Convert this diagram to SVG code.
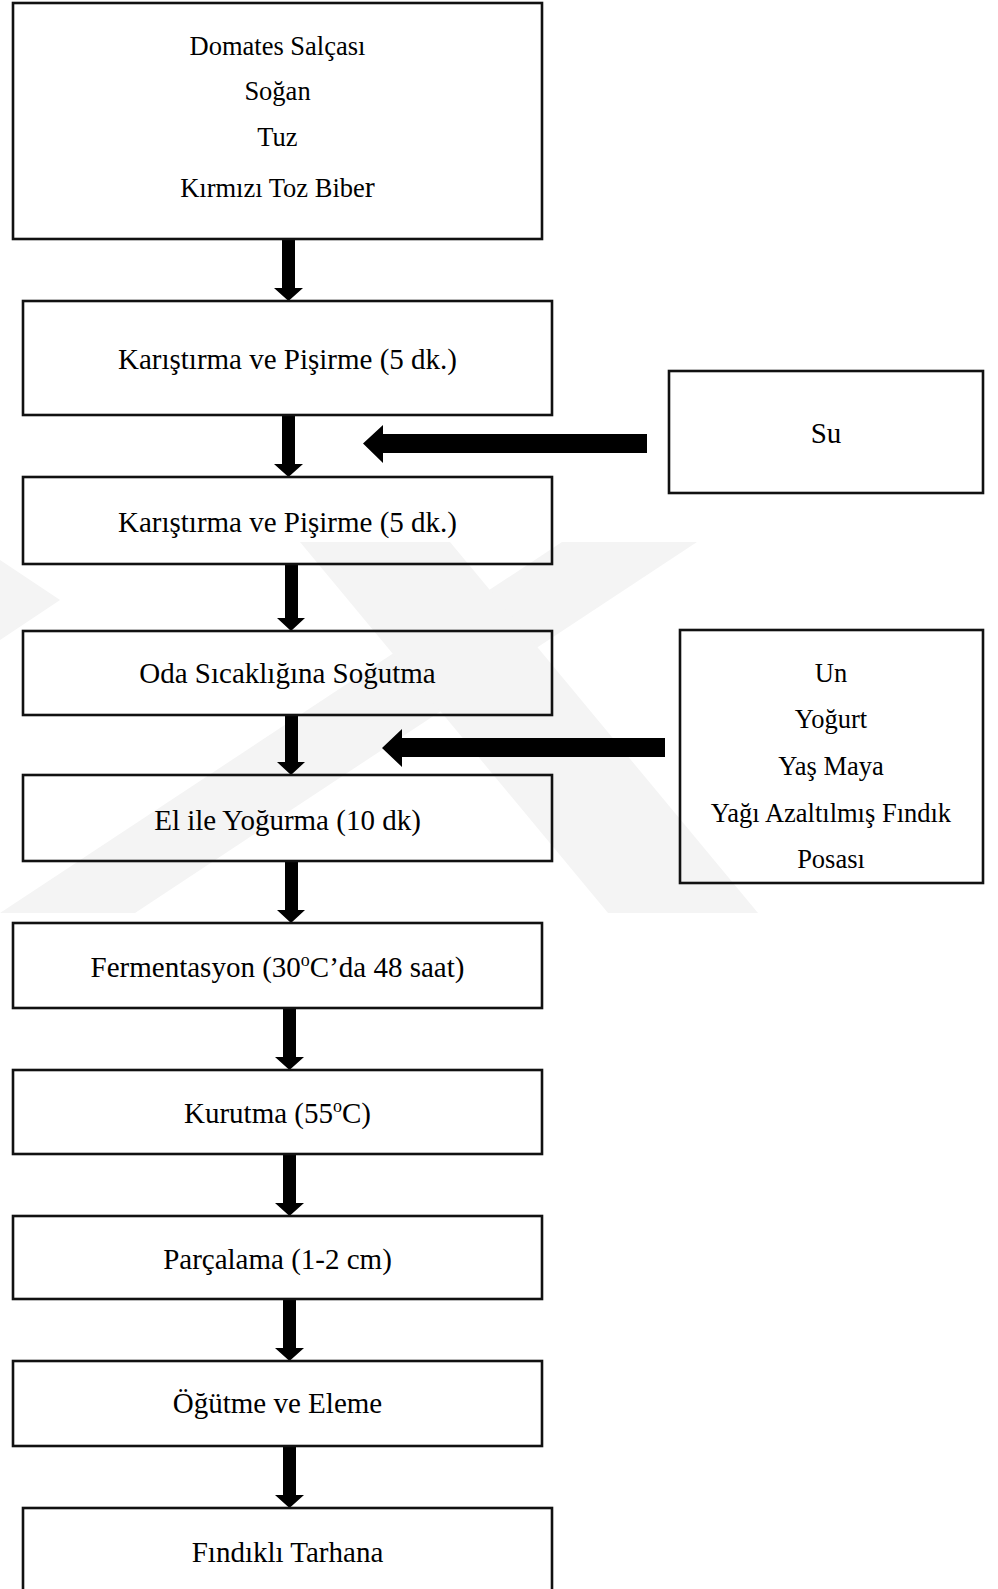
<svg xmlns="http://www.w3.org/2000/svg" width="998" height="1589" viewBox="0 0 998 1589">
<defs>
<style>
.box{fill:none;stroke:#111;stroke-width:2.6}
.t{font-family:"Liberation Serif","Times New Roman",serif;fill:#000;text-anchor:middle}
.m{font-size:29px}
.s{font-size:26.5px}
.wm{fill:#f4f4f4}
.ar{fill:#000}
</style>
</defs>
<rect width="998" height="1589" fill="#fff"/>
<g id="watermark">
<polygon class="wm" points="0,913 135,913 697,542 562,542"/>
<polygon class="wm" points="300,542 450,542 758,913 608,913"/>
<polygon class="wm" points="0,640 60,600 0,560"/>
</g>
<g id="connectors">
<path class="ar" d="M282,239 H295 V288 H303 L288.5,301 L274,288 H282 Z"/>
<path class="ar" d="M282,415 H295 V464 H303 L288.5,477 L274,464 H282 Z"/>
<path class="ar" d="M285,564 H298 V618 H305 L291,631 L277,618 H285 Z"/>
<path class="ar" d="M285,715 H298 V762 H305 L291,775 L277,762 H285 Z"/>
<path class="ar" d="M285,861 H298 V910 H305 L291,923 L277,910 H285 Z"/>
<path class="ar" d="M283,1008 H296 V1057 H304 L289.5,1070 L275,1057 H283 Z"/>
<path class="ar" d="M283,1154 H296 V1203 H304 L289.5,1216 L275,1203 H283 Z"/>
<path class="ar" d="M283,1299 H296 V1348 H304 L289.5,1361 L275,1348 H283 Z"/>
<path class="ar" d="M283,1446 H296 V1495 H304 L289.5,1508 L275,1495 H283 Z"/>
<path class="ar" d="M647,434 V453 H383 V463 L363,443.5 L383,425 V434 Z"/>
<path class="ar" d="M665,738 V757 H402 V767 L382,748 L402,729 V738 Z"/>
</g>
<g id="n1">
<rect class="box" x="13" y="3" width="529" height="236"/>
<text class="t s" x="277.5" y="55">Domates Salçası</text>
<text class="t s" x="277.5" y="100">Soğan</text>
<text class="t s" x="277.5" y="146">Tuz</text>
<text class="t s" x="277.5" y="197">Kırmızı Toz Bibe<tspan font-size="30">r</tspan></text>
</g>
<g id="n2">
<rect class="box" x="23" y="301" width="529" height="114"/>
<text class="t m" x="287.5" y="369">Karıştırma ve Pişirme (5 dk.)</text>
</g>
<g id="su">
<rect class="box" x="669" y="371" width="314" height="122"/>
<text class="t m" x="826" y="443">Su</text>
</g>
<g id="n3">
<rect class="box" x="23" y="477" width="529" height="87"/>
<text class="t m" x="287.5" y="532">Karıştırma ve Pişirme (5 dk.)</text>
</g>
<g id="n4">
<rect class="box" x="23" y="631" width="529" height="84"/>
<text class="t m" x="287.5" y="683">Oda Sıcaklığına Soğutma</text>
</g>
<g id="ing">
<rect class="box" x="680" y="630" width="303" height="253"/>
<text class="t s" x="831" y="682">Un</text>
<text class="t s" x="831" y="728">Yoğurt</text>
<text class="t s" x="831" y="775">Yaş Maya</text>
<text class="t s" x="831" y="822">Yağı Azaltılmış Fındık</text>
<text class="t s" x="831" y="868">Posası</text>
</g>
<g id="n5">
<rect class="box" x="23" y="775" width="529" height="86"/>
<text class="t m" x="287.5" y="830">El ile Yoğurma (10 dk)</text>
</g>
<g id="n6">
<rect class="box" x="13" y="923" width="529" height="85"/>
<text class="t m" x="277.5" y="977">Fermentasyon (30<tspan font-size="18" dy="-11">o</tspan><tspan dy="11">C’da 48 saat)</tspan></text>
</g>
<g id="n7">
<rect class="box" x="13" y="1070" width="529" height="84"/>
<text class="t m" x="277.5" y="1123">Kurutma (55<tspan font-size="18" dy="-11">o</tspan><tspan dy="11">C)</tspan></text>
</g>
<g id="n8">
<rect class="box" x="13" y="1216" width="529" height="83"/>
<text class="t m" x="277.5" y="1269">Parçalama (1-2 cm)</text>
</g>
<g id="n9">
<rect class="box" x="13" y="1361" width="529" height="85"/>
<text class="t m" x="277.5" y="1413">Öğütme ve Eleme</text>
</g>
<g id="n10">
<rect class="box" x="23" y="1508" width="529" height="100"/>
<text class="t m" x="287.5" y="1562">Fındıklı Tarhana</text>
</g>
</svg>
